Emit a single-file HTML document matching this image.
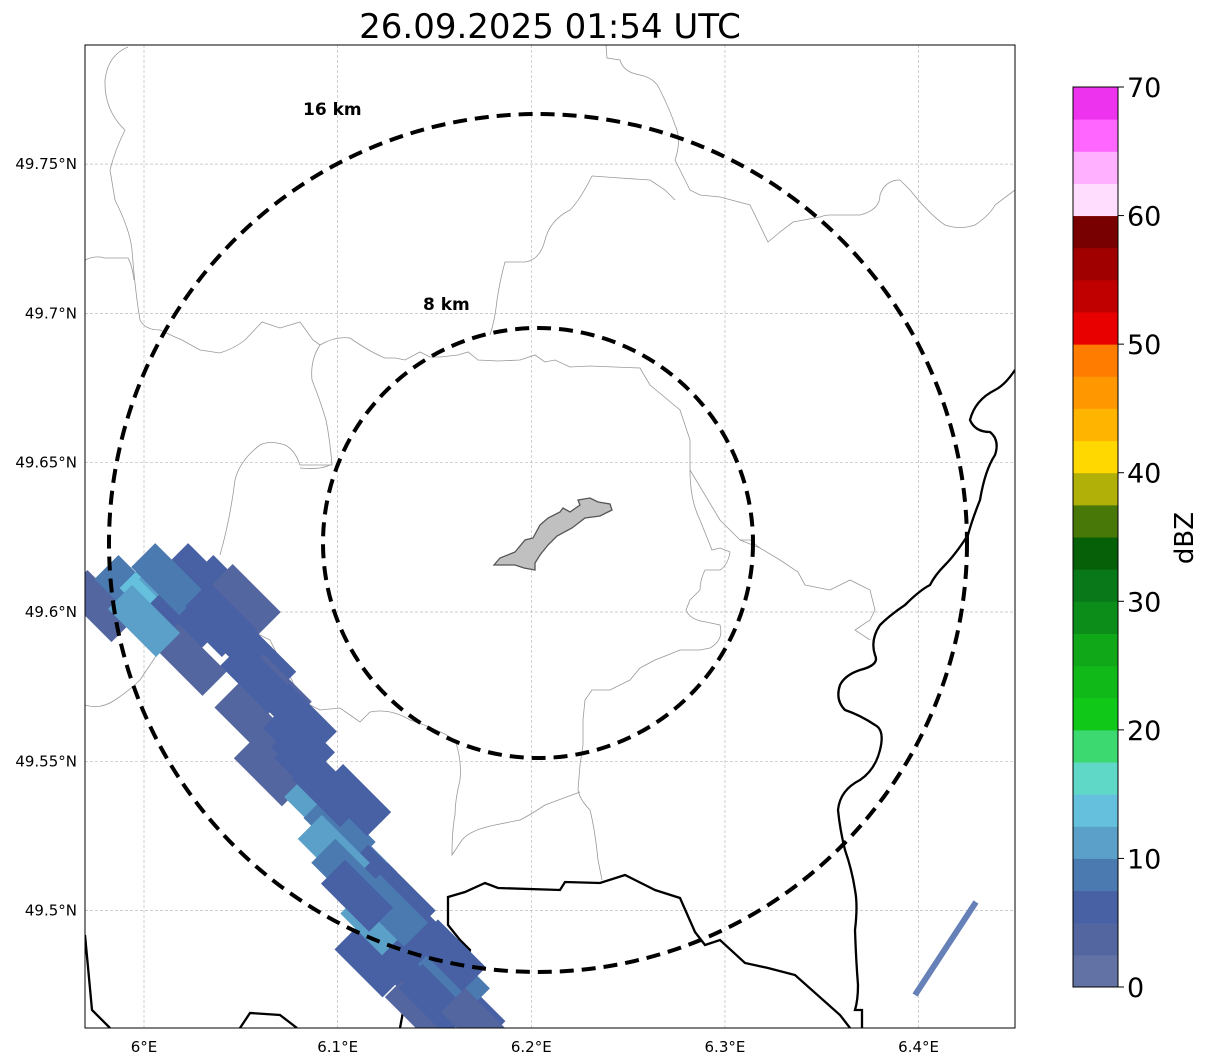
<!DOCTYPE html>
<html><head><meta charset="utf-8"><style>
html,body{margin:0;padding:0;background:#fff;width:1207px;height:1064px;overflow:hidden;font-family:"Liberation Sans","DejaVu Sans",sans-serif;}
</style></head><body>
<svg id="chart" width="1207" height="1064" xmlns="http://www.w3.org/2000/svg" font-family="DejaVu Sans, Liberation Sans, sans-serif">
<defs><clipPath id="mapclip"><rect x="85" y="45" width="930" height="983"/></clipPath></defs>
<text x="550" y="38" font-size="34" text-anchor="middle" fill="#000">26.09.2025 01:54 UTC</text>
<g id="grid"></g>
<g clip-path="url(#mapclip)">
<g fill="none" stroke="#999" stroke-width="0.8">
<path d="M128,47 Q108,55 105,80 Q104,110 125,130 Q115,150 110,170 L115,200 Q130,230 132,250 Q135,290 140,320 Q145,330 160,330 L175,337 L182,340 L200,350 L220,353 Q235,348 245,340 L262,322 L280,328 L300,322 L313,340 L320,345 Q335,336 350,338 Q370,352 385,358 L395,358 L405,360 L420,352 L430,357 L440,357 L458,355 L468,352 L478,360 L498,361 L520,360 L535,355 L545,362 L555,360 L570,367 L590,366 L640,368 L650,385 L680,410 L690,440 L690,470 L720,520 L740,540 L750,540 L760,548"/>
<path d="M85,260 Q95,255 105,258 L128,258 Q132,265 134,280"/>
<path d="M320,345 Q310,360 312,380 Q320,400 326,420 Q330,440 332,465 L300,465 Q295,450 285,445 Q270,440 260,445 Q240,460 235,480 Q230,520 220,555"/>
<path d="M330,465 Q320,470 300,468"/>
<path d="M606,45 L607,58 L620,60 Q623,72 640,75 Q655,78 660,90 Q670,110 675,125 Q682,140 675,160 L690,190 L700,195 L720,197 L750,205 L768,242 L780,232 L793,222 L820,217 Q825,215 830,215 L860,215 Q880,210 880,195 Q885,180 900,180 L910,190 Q930,215 945,225 Q960,230 975,225 Q990,215 995,205 L1015,190"/>
<path d="M592,176 L620,178 L650,180 L665,190 L675,200"/>
<path d="M592,176 Q580,200 570,210 Q550,220 545,240 Q540,260 525,262 L505,262 Q500,280 497,300 Q495,320 490,335"/>
<path d="M690,470 Q690,500 700,520 L712,550 L720,548 L730,552 Q728,565 720,570 L705,570 Q700,580 700,590 L690,600 L686,610 Q690,620 706,622 L720,625 Q724,640 710,648 L700,650 L680,650 Q668,655 655,660 L640,668 L630,680 L610,690 L592,690 L585,700 L583,720 L583,745 L580,765 L578,790 Q580,800 590,810 Q595,830 598,860 L602,880"/>
<path d="M740,540 L760,548 L780,560 L798,572 L805,585 L830,590 L850,580 L870,590 L875,610 L870,620 L855,630 L870,640"/>
<path d="M85,705 Q100,710 115,700 Q130,690 140,680 Q150,665 160,650 L170,640 L185,630"/>
<path d="M190,610 L220,620 L250,630 L270,640 L280,660 L292,680 L300,700 L320,710 L340,708 L350,715 L360,722 L370,712 Q390,708 410,720 Q440,730 455,740 Q462,760 460,780 Q455,800 455,815 Q452,830 452,855 L462,840 Q470,830 495,825 L520,820 Q530,815 545,805 L580,792"/>
</g>
<path fill="none" stroke="#000" stroke-width="2.3" d="M1015,370 Q1005,385 995,390 Q975,400 970,420 Q975,432 990,432 Q1000,440 995,455 Q985,470 980,500 Q972,520 968,535 Q955,555 945,565 Q935,575 930,585 Q920,590 905,605 Q890,615 880,625 Q870,640 875,655 Q880,665 860,670 Q845,675 840,685 Q835,700 845,710 Q860,715 875,725 Q885,730 880,750 Q875,770 860,780 Q840,790 838,810 Q840,830 845,850 Q852,870 855,890 Q858,905 855,930 Q856,960 858,985 Q858,1000 855,1010 L862,1010 L862,1028"/>
<path fill="none" stroke="#000" stroke-width="2.3" d="M400,1028 L403,1012 L420,1000 L445,995 L460,985 L465,970 L470,950 L460,940 L448,925 L448,897 L465,892 L485,883 L498,888 L560,890 L565,882 L600,883 L625,875 L655,890 L680,898 L695,932 L705,945 L720,940 L745,963 L768,968 L795,975 L840,1015 L850,1028"/>
<path fill="none" stroke="#000" stroke-width="2.3" d="M85,935 L92,1010 L110,1028 M240,1028 L250,1013 L280,1015 L297,1028"/>
<path fill="#c0c0c0" stroke="#555" stroke-width="1.3" d="M494,565 L500,558 L515,552 L525,540 L533,538 L540,525 L548,518 L560,512 L563,508 L570,512 L580,505 L578,500 L590,498 L598,502 L610,504 L612,510 L600,516 L585,518 L572,528 L557,536 L548,545 L540,555 L535,563 L535,570 L524,568 L515,565 Z"/>
<g id="radar"></g>
<line x1="915" y1="995" x2="976" y2="902" stroke="#6680b8" stroke-width="6"/>
<ellipse cx="538" cy="543" rx="429" ry="429" fill="none" stroke="#000" stroke-width="4" stroke-dasharray="14,8"/>
<ellipse cx="538" cy="543" rx="215" ry="215" fill="none" stroke="#000" stroke-width="4" stroke-dasharray="14,8"/>
</g>
<text x="303" y="115" font-size="17" font-weight="bold">16 km</text>
<text x="423" y="310" font-size="17" font-weight="bold">8 km</text>
<rect x="85" y="45" width="930" height="983" fill="none" stroke="#000" stroke-width="1"/>
<g id="axes"></g>
<g id="cbar"></g>
<text transform="translate(1193,538) rotate(-90)" font-size="26" text-anchor="middle">dBZ</text>
</svg>
<script>
const NS="http://www.w3.org/2000/svg";
const lonTicks=[6.0,6.1,6.2,6.3,6.4];
const lonLabels=["6°E","6.1°E","6.2°E","6.3°E","6.4°E"];
const latTicks=[49.75,49.7,49.65,49.6,49.55,49.5];
const latLabels=["49.75°N","49.7°N","49.65°N","49.6°N","49.55°N","49.5°N"];
const cellLon=[5.977,5.993,6.006,6.016,6.029,6.042,6.052,6.034,6.047,6.060,6.068,6.081,6.075,6.065,6.086,6.091,6.101,6.109,6.112,6.122,6.132,6.137,6.130,6.117,6.148,6.153,6.168,6.143,6.019,6.024,6.055,6.012,6.000,6.098,6.120,6.140,6.160,6.040,6.058,6.080,6.095,6.105,6.128,6.150,6.158,6.172,6.110];
const cellLat=[49.602,49.607,49.604,49.607,49.611,49.607,49.604,49.597,49.591,49.584,49.574,49.564,49.554,49.547,49.547,49.534,49.527,49.537,49.517,49.510,49.504,49.494,49.483,49.483,49.490,49.473,49.467,49.467,49.597,49.584,49.564,49.611,49.597,49.520,49.495,49.480,49.478,49.598,49.578,49.557,49.540,49.512,49.500,49.470,49.485,49.462,49.505];
const cellDbz=[4,8,14,10,6,5,4,6,7,5,3,6,5,4,6,12,9,5,8,6,7,13,6,5,5,6,5,4,5,3,3,9,12,11,10,7,8,6,5,6,7,9,8,6,7,4,6];
const cbarTicks=[0,10,20,30,40,50,60,70];
const cbarColors=["#6272a4","#5466a0","#4860a4","#4a7ab0","#5aa0c8","#64c0dc","#60d8c8","#3cd870","#10c818","#10b818","#10a818","#0c8c18","#087818","#066008","#487808","#b0b008","#ffd800","#ffb400","#ff9800","#ff7c00","#e80000","#c00000","#a00000","#780000","#ffddff","#ffb0ff","#ff66ff","#ee33ee"];
const binStep=2.5;
const xOf=lon=>144+(lon-6.0)*1936.5;
const yOf=lat=>612-(lat-49.6)*2986;
const cY=v=>987-(v/70)*900;
function colorOf(v){let i=Math.floor(v/binStep);i=Math.max(0,Math.min(cbarColors.length-1,i));return cbarColors[i];}
const grid=document.getElementById('grid');
const axes=document.getElementById('axes');
lonTicks.forEach((t,i)=>{
 const l=document.createElementNS(NS,'line');
 
 
 l.setAttribute('x1',xOf(t));l.setAttribute('x2',xOf(t));l.setAttribute('y1',45);l.setAttribute('y2',1028);
 l.setAttribute('stroke','#bbb');l.setAttribute('stroke-width','0.7');l.setAttribute('stroke-dasharray','3,2');grid.appendChild(l);
 const tx=document.createElementNS(NS,'text');
 
 
 tx.setAttribute('x',xOf(t));tx.setAttribute('y',1052);tx.setAttribute('text-anchor','middle');tx.setAttribute('font-size','15');
 tx.textContent=lonLabels[i];axes.appendChild(tx);
});
latTicks.forEach((t,i)=>{
 const l=document.createElementNS(NS,'line');
 
 
 l.setAttribute('y1',yOf(t));l.setAttribute('y2',yOf(t));l.setAttribute('x1',85);l.setAttribute('x2',1015);
 l.setAttribute('stroke','#bbb');l.setAttribute('stroke-width','0.7');l.setAttribute('stroke-dasharray','3,2');grid.appendChild(l);
 const tx=document.createElementNS(NS,'text');
 
 
 tx.setAttribute('x',77);tx.setAttribute('y',yOf(t)+5);tx.setAttribute('text-anchor','end');tx.setAttribute('font-size','15');
 tx.textContent=latLabels[i];axes.appendChild(tx);
});
const radar=document.getElementById('radar');
cellLon.forEach((lon,i)=>{
 const x=xOf(lon),y=yOf(cellLat[i]);
 const r=document.createElementNS(NS,'rect');
 
 
 r.setAttribute('x',-34);r.setAttribute('y',-17);r.setAttribute('width',68);r.setAttribute('height',34);
 r.setAttribute('transform',`translate(${x},${y}) rotate(45)`);
 r.setAttribute('fill',colorOf(cellDbz[i]));
 radar.appendChild(r);
});
const cb=document.getElementById('cbar');
for(let i=0;i<cbarColors.length;i++){
 const v0=i*binStep,v1=(i+1)*binStep;
 const r=document.createElementNS(NS,'rect');
 
 
 r.setAttribute('x',1073);r.setAttribute('y',cY(v1));r.setAttribute('width',45);r.setAttribute('height',cY(v0)-cY(v1)+0.5);
 r.setAttribute('fill',colorOf(v0+0.1));
 cb.appendChild(r);
}
const frame=document.createElementNS(NS,'rect');


frame.setAttribute('x',1073);frame.setAttribute('y',87);frame.setAttribute('width',45);frame.setAttribute('height',900);frame.setAttribute('fill','none');frame.setAttribute('stroke','#000');
cb.appendChild(frame);
cbarTicks.forEach(t=>{
 const tk=document.createElementNS(NS,'line');
 
 
 tk.setAttribute('x1',1118);tk.setAttribute('x2',1124);tk.setAttribute('y1',cY(t));tk.setAttribute('y2',cY(t));tk.setAttribute('stroke','#000');
 cb.appendChild(tk);
 const tx=document.createElementNS(NS,'text');
 
 
 tx.setAttribute('x',1127);tx.setAttribute('y',cY(t)+10);tx.setAttribute('font-size','27');
 tx.textContent=t;cb.appendChild(tx);
});
</script>
</body></html>
